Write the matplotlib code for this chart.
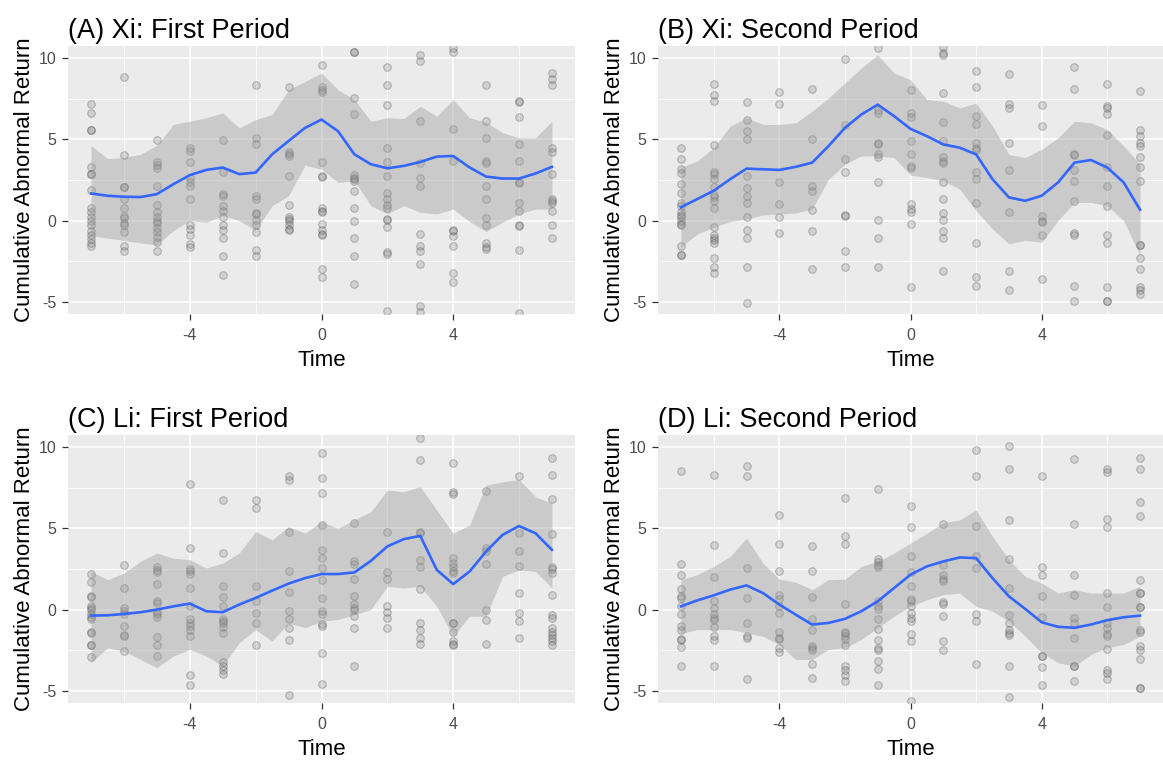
import matplotlib
matplotlib.use("Agg")
import matplotlib.pyplot as plt

plt.rcParams['font.family'] = ['Liberation Sans', 'DejaVu Sans']
plt.rcParams['axes.unicode_minus'] = False

times = [-7, -6, -5, -4, -3, -2, -1, 0, 1, 2, 3, 4, 5, 6, 7]
fit_time = [-7, -6.5, -6, -5.5, -5, -4.5, -4, -3.5, -3, -2.5, -2, -1.5, -1, -0.5, 0,
            0.5, 1, 1.5, 2, 2.5, 3, 3.5, 4, 4.5, 5, 5.5, 6, 6.5, 7]

titles = ["(A) Xi: First Period", "(B) Xi: Second Period",
          "(C) Li: First Period", "(D) Li: Second Period"]

# (A) Xi first period
a_pts = [
    [7.2, 6.6, 5.6, 5.6, 3.3, 2.9, 2.9, 1.9, 0.75, 0.55, 0.2, 0.0, -0.3, -0.65, -0.9, -1.15, -1.4, -1.55],
    [8.85, 4.05, 2.05, 2.05, 1.35, 0.8, 0.3, 0.15, -0.15, -0.3, -0.7, -1.55, -1.9],
    [4.95, 3.6, 3.45, 3.25, 2.1, 0.95, 0.5, 0.2, 0.0, -0.15, -0.45, -0.7, -1.0, -1.3, -1.9],
    [4.5, 4.3, 3.6, 2.65, 2.4, 2.15, 1.3, -0.25, -0.5, -0.9, -1.45, -1.6],
    [4.95, 3.0, 1.65, 1.5, 0.9, 0.6, 0.2, -0.3, -0.55, -1.1, -2.2, -3.35],
    [8.35, 5.1, 4.7, 1.5, 1.35, 0.45, 0.4, 0.05, -0.3, -0.7, -1.8, -2.2],
    [8.2, 4.2, 4.1, 3.95, 2.75, 0.95, 0.2, 0.1, -0.05, -0.3, -0.5, -0.6],
    [9.55, 8.25, 8.05, 7.9, 3.6, 2.75, 2.7, 0.75, 0.6, 0.5, -0.2, -0.6, -0.8, -0.9, -3.0, -3.45],
    [10.4, 10.35, 7.55, 6.55, 2.8, 2.65, 2.55, 2.45, 1.8, 0.75, 0.0, -1.05, -2.2, -3.9],
    [9.45, 8.35, 7.1, 4.45, 3.6, 2.75, 1.7, 1.3, 0.95, 0.8, 0.1, 0.05, -0.4, -1.95, -2.05, -5.55],
    [10.2, 9.8, 6.15, 3.55, 2.6, 2.1, -0.8, -1.55, -1.85, -2.65, -5.25, -5.6],
    [10.6, 10.35, 5.65, 3.65, -0.55, -0.65, -0.95, -1.55, -3.2, -3.8],
    [8.35, 6.15, 5.1, 3.65, 3.55, 2.15, 1.3, 0.15, -0.25, -1.4, -1.6, -1.75],
    [7.35, 7.3, 6.35, 4.7, 3.65, 2.35, 2.3, 1.1, 0.6, -0.3, -0.35, -1.8, -5.7],
    [9.1, 8.7, 8.35, 4.45, 4.2, 2.85, 1.35, 1.2, 1.1, 0.6, -0.3, -1.05],
]
a_fit = [1.67, 1.53, 1.47, 1.45, 1.63, 2.24, 2.8, 3.12, 3.27, 2.86, 2.96, 4.08, 4.9, 5.71, 6.22,
         5.51, 4.08, 3.47, 3.22, 3.37, 3.61, 3.94, 3.98, 3.27, 2.71, 2.59, 2.59, 2.9, 3.31]
a_hi = [4.63, 3.82, 3.88, 4.08, 4.63, 5.92, 6.12, 6.33, 6.63, 5.71, 6.22, 6.53, 8.06, 8.57, 9.08,
        8.06, 7.45, 6.12, 6.33, 6.29, 7.04, 6.43, 7.45, 6.33, 6.06, 5.41, 5.1, 5.1, 6.12]
a_lo = [-0.92, -1.08, -1.22, -1.37, -1.49, -0.61, 0.0, -0.1, 0.31, 0.0, -0.61, 0.92, 1.53, 3.41, 3.16,
        2.35, 2.45, 0.92, 0.41, 0.92, 0.51, 0.41, 0.71, -0.06, -0.67, -0.1, 0.41, 0.71, 0.71]

# (B) Xi second period
b_pts = [
    [4.45, 3.8, 3.15, 2.95, 2.25, 1.7, 1.1, 0.9, 0.5, 0.35, 0.2, 0.0, -0.2, -0.3, -1.55, -2.1, -2.1],
    [8.4, 7.75, 7.35, 4.65, 3.0, 2.9, 2.55, 2.05, 1.55, 1.45, 1.2, 0.75, -0.4, -0.9, -1.1, -1.2, -1.35, -2.3, -2.85, -3.25],
    [7.3, 6.2, 5.5, 5.0, 2.75, 2.0, 1.5, 1.1, 0.25, -0.55, -1.1, -2.85, -5.05],
    [7.9, 7.2, 2.35, 1.0, 0.2, -0.75],
    [8.1, 5.0, 2.1, 1.8, 0.65, -0.65, -3.0],
    [9.95, 5.9, 3.8, 3.0, 0.35, 0.3, -1.9, -2.85],
    [10.6, 6.8, 6.65, 4.8, 4.7, 4.1, 3.9, 2.35, 0.05, -1.1, -2.85],
    [8.05, 6.65, 6.35, 4.9, 4.1, 3.35, 3.25, 1.0, 0.7, 0.55, -0.2, -4.1],
    [10.7, 10.3, 10.2, 7.85, 6.05, 4.9, 3.9, 3.65, 3.55, 2.35, 1.35, 0.45, 0.05, -0.65, -1.1, -3.1],
    [9.2, 8.2, 6.45, 5.95, 4.8, 4.45, 4.35, 3.0, 2.55, 1.1, -1.35, -3.45, -4.0],
    [9.0, 7.15, 6.95, 4.8, 3.1, 0.55, -3.1, -4.3],
    [7.1, 5.85, 0.3, 0.0, -0.1, -0.9, -3.6],
    [9.45, 8.1, 4.1, 4.05, 3.1, 2.45, 1.2, -0.75, -0.9, -4.0, -4.95],
    [8.4, 7.05, 6.95, 6.55, 5.25, 3.3, 2.1, 0.9, -0.9, -1.35, -4.1, -4.95, -4.95],
    [8.0, 5.55, 5.2, 4.8, 4.6, 3.9, 3.3, 2.45, -1.5, -1.5, -2.3, -2.95, -4.1, -4.3, -4.5],
]
b_fit = [0.82, 1.33, 1.84, 2.55, 3.2, 3.16, 3.12, 3.31, 3.57, 4.59, 5.71, 6.53, 7.14, 6.43, 5.65,
         5.2, 4.69, 4.49, 4.08, 2.55, 1.43, 1.22, 1.53, 2.35, 3.57, 3.73, 3.27, 2.35, 0.67]
b_hi = [3.27, 3.67, 4.49, 5.82, 6.33, 5.92, 5.92, 6.02, 6.73, 7.55, 8.47, 9.39, 10.2, 9.08, 8.67,
        7.45, 7.35, 6.94, 7.24, 5.82, 4.08, 3.88, 4.39, 5.1, 6.12, 6.02, 5.61, 4.59, 3.47]
b_lo = [-1.63, -0.82, -0.41, -0.06, 0.1, 0.35, 0.41, 0.47, 0.71, 2.55, 3.47, 3.98, 3.98, 3.88, 2.8,
        2.65, 2.45, 1.94, 0.61, -0.51, -1.43, -1.22, -1.33, 0.0, 1.12, 1.12, 0.92, 0.0, -2.14]

# (C) Li first period
c_pts = [
    [2.2, 1.7, 0.85, 0.8, 0.2, 0.1, 0.0, -0.3, -0.45, -0.6, -1.35, -1.45, -2.2, -2.2, -2.9],
    [2.75, 1.35, 0.1, -0.1, -0.3, -1.0, -1.55, -1.65, -2.55],
    [2.6, 2.45, 2.3, 1.6, 0.55, 0.4, -0.15, -0.3, -0.45, -1.7, -2.15, -2.85],
    [7.75, 3.8, 2.5, 2.35, 2.2, 1.35, 0.2, -0.55, -0.8, -1.0, -1.25, -1.65, -4.0, -4.65],
    [6.75, 3.5, 1.45, 0.8, 0.25, -0.6, -0.7, -0.8, -1.1, -1.45, -3.25, -3.5, -3.7, -3.95],
    [6.75, 6.25, 1.45, 0.5, -0.2, -0.85, -2.2],
    [8.2, 8.0, 4.8, 2.35, 1.1, -0.1, -0.6, -1.15, -1.85, -5.25],
    [9.65, 8.1, 7.2, 5.2, 3.7, 3.15, 2.55, 1.85, 0.7, -0.1, -0.3, -0.9, -1.0, -2.7, -4.6],
    [5.35, 3.0, 2.8, 1.9, 0.85, 0.35, 0.1, -0.05, -0.4, -1.15, -3.45],
    [4.75, 2.3, 1.9, 0.2, -0.15, -0.5, -1.15],
    [10.55, 9.2, 4.8, 4.7, 3.05, 2.65, 1.25, -0.8, -1.25, -1.75, -2.1],
    [9.0, 7.25, 7.1, 3.2, 2.9, 2.65, 2.4, 2.25, -0.8, -0.8, -1.35, -1.95, -2.1, -2.2],
    [7.3, 3.8, 3.6, 2.8, 0.0, -0.65, -2.1],
    [8.25, 4.7, 3.6, 2.7, 1.0, -0.2, -0.7, -1.75],
    [9.35, 8.3, 6.8, 4.65, 2.65, 2.5, 2.25, 0.9, -0.35, -0.5, -1.15, -1.35, -1.55, -1.75, -1.95, -2.2],
]
c_fit = [-0.37, -0.35, -0.27, -0.16, 0.0, 0.2, 0.37, -0.1, -0.16, 0.31, 0.72, 1.17, 1.6, 1.94, 2.19,
         2.19, 2.29, 3.0, 3.89, 4.34, 4.54, 2.45, 1.57, 2.35, 3.58, 4.6, 5.15, 4.7, 3.68]
c_hi = [2.35, 1.84, 2.25, 2.97, 3.48, 3.17, 3.07, 2.56, 2.86, 3.48, 4.81, 4.29, 5.11, 4.7, 5.42,
        5.01, 5.52, 6.03, 7.36, 7.26, 7.57, 6.13, 4.7, 5.21, 7.67, 7.87, 8.02, 6.95, 6.54]
c_lo = [-3.27, -2.35, -2.56, -3.07, -3.58, -2.86, -2.45, -2.86, -3.48, -2.04, -1.23, -1.94, -0.82, -1.12, -0.72,
        -0.61, -0.31, 0.0, 1.43, 1.33, 1.43, 0.2, -1.64, -0.41, -0.41, 2.04, 2.45, 2.35, 1.33]

# (D) Li second period
d_pts = [
    [8.55, 2.8, 2.1, 1.25, 0.85, 0.7, 0.25, -0.3, -1.0, -1.25, -1.8, -1.9, -2.3, -3.45],
    [8.3, 3.95, 2.0, 0.5, 0.1, -0.3, -0.5, -0.65, -1.1, -1.65, -1.85, -3.5],
    [8.85, 8.25, 2.55, 0.7, -0.85, -1.65, -1.75, -4.3],
    [5.85, 4.05, 2.35, 0.9, 0.65, 0.2, -0.2, -1.35, -1.75, -1.8, -2.35, -2.6],
    [3.9, 2.35, 0.75, -0.55, -1.25, -2.25, -2.35, -2.5, -3.35, -4.2],
    [6.9, 4.55, 4.05, 0.35, -1.35, -1.45, -1.65, -1.8, -2.15, -3.5, -3.7, -4.0, -4.4],
    [7.4, 3.1, 2.95, 2.75, 2.65, 0.5, 0.2, 0.05, -0.55, -1.2, -1.85, -2.35, -2.5, -3.15, -3.65, -4.65],
    [6.35, 5.1, 3.3, 2.3, 1.45, 0.65, 0.5, 0.2, -0.2, -0.5, -0.7, -1.5, -1.95, -5.6],
    [5.3, 2.75, 2.1, 1.9, 1.75, 0.45, 0.35, -0.4, -1.95, -2.5],
    [9.85, 8.25, 5.15, 3.3, 2.55, -0.25, -0.7, -3.35],
    [10.1, 8.65, 5.5, 3.1, 1.35, -0.35, -0.85, -1.25, -1.45, -1.55, -3.45, -5.35],
    [8.25, 2.6, 2.15, 0.85, -0.45, -2.85, -2.85, -3.55, -4.65],
    [9.25, 5.3, 2.1, 0.9, -0.5, -0.8, -1.75, -3.45, -3.5, -4.4],
    [8.65, 8.45, 5.55, 5.1, 1.0, 0.15, -0.8, -1.15, -1.5, -1.6, -2.4, -3.7, -3.9, -4.25],
    [9.35, 8.65, 6.6, 5.75, 1.8, 1.0, 1.0, 0.15, 0.15, -1.25, -1.35, -2.25, -2.5, -3.05, -4.85, -4.85],
]
d_fit = [0.2, 0.57, 0.88, 1.23, 1.49, 1.02, 0.31, -0.31, -0.92, -0.82, -0.57, -0.1, 0.51, 1.33, 2.15,
         2.66, 2.97, 3.21, 3.17, 1.94, 0.82, 0.04, -0.78, -1.06, -1.12, -0.92, -0.65, -0.47, -0.37]
d_hi = [1.84, 2.15, 2.66, 3.27, 4.4, 2.86, 1.88, 1.68, 1.23, 1.84, 1.88, 2.66, 2.97, 3.48, 4.09,
        4.7, 5.36, 5.52, 6.13, 4.5, 3.07, 2.04, 1.64, 1.02, 1.23, 1.02, 1.02, 1.02, 1.43]
d_lo = [-1.47, -1.23, -1.23, -1.23, -1.43, -1.64, -2.15, -3.07, -3.07, -2.45, -2.35, -1.84, -1.12, -0.41, 0.2,
        0.61, 0.92, 1.02, 0.2, -0.1, -0.72, -1.64, -2.66, -3.27, -3.48, -2.76, -2.35, -2.15, -1.64]

W, H = 1163, 768
fig = plt.figure(figsize=(W / 100, H / 100), dpi=100)

# panel boxes in pixels: left, top, right, bottom
boxes = [(68, 46, 575, 314), (658, 46, 1163, 314),
         (68, 435, 575, 703), (658, 435, 1163, 703)]
panels = [(a_pts, a_fit, a_lo, a_hi), (b_pts, b_fit, b_lo, b_hi),
          (c_pts, c_fit, c_lo, c_hi), (d_pts, d_fit, d_lo, d_hi)]

for (l, t, r, b), title, (pts, fit, lo, hi) in zip(boxes, titles, panels):
    ax = fig.add_axes([l / W, (H - b) / H, (r - l) / W, (b - t) / H])
    ax.set_facecolor('#EBEBEB')
    for s in ax.spines.values():
        s.set_visible(False)

    for tm, vals in zip(times, pts):
        ax.scatter([tm] * len(vals), vals, s=30, facecolor=(0.45, 0.45, 0.45, 0.22),
                   edgecolor=(0.25, 0.25, 0.25, 0.3), linewidth=0.8, zorder=2)

    ax.fill_between(fit_time, lo, hi, color='#999999', alpha=0.4, linewidth=0, zorder=3)
    ax.plot(fit_time, fit, color='#3366FF', linewidth=1.9, zorder=4,
            solid_joinstyle='round')

    ax.set_xlim(-7.7, 7.7)
    ax.set_ylim(-5.75, 10.75)
    ax.set_xticks([-4, 0, 4])
    ax.set_xticks([-6, -2, 2, 6], minor=True)
    ax.set_yticks([-5, 0, 5, 10])
    ax.set_yticks([-2.5, 2.5, 7.5], minor=True)
    ax.grid(which='major', color='white', linewidth=1.1)
    ax.grid(which='minor', color='white', linewidth=0.6)
    ax.set_axisbelow(True)
    ax.tick_params(which='major', length=4.3, width=0.9, color='#333333',
                   labelcolor='#4D4D4D', labelsize=11.5, pad=4)
    ax.tick_params(axis='x', which='major', pad=5.5)
    ax.tick_params(which='minor', length=0)

    ax.set_title(title, loc='left', fontsize=19.5, pad=6)
    ax.set_xlabel('Time', fontsize=16, labelpad=5)
    ax.set_ylabel('Cumulative Abnormal Return', fontsize=16, labelpad=3)

plt.savefig('out.png', dpi=100)
